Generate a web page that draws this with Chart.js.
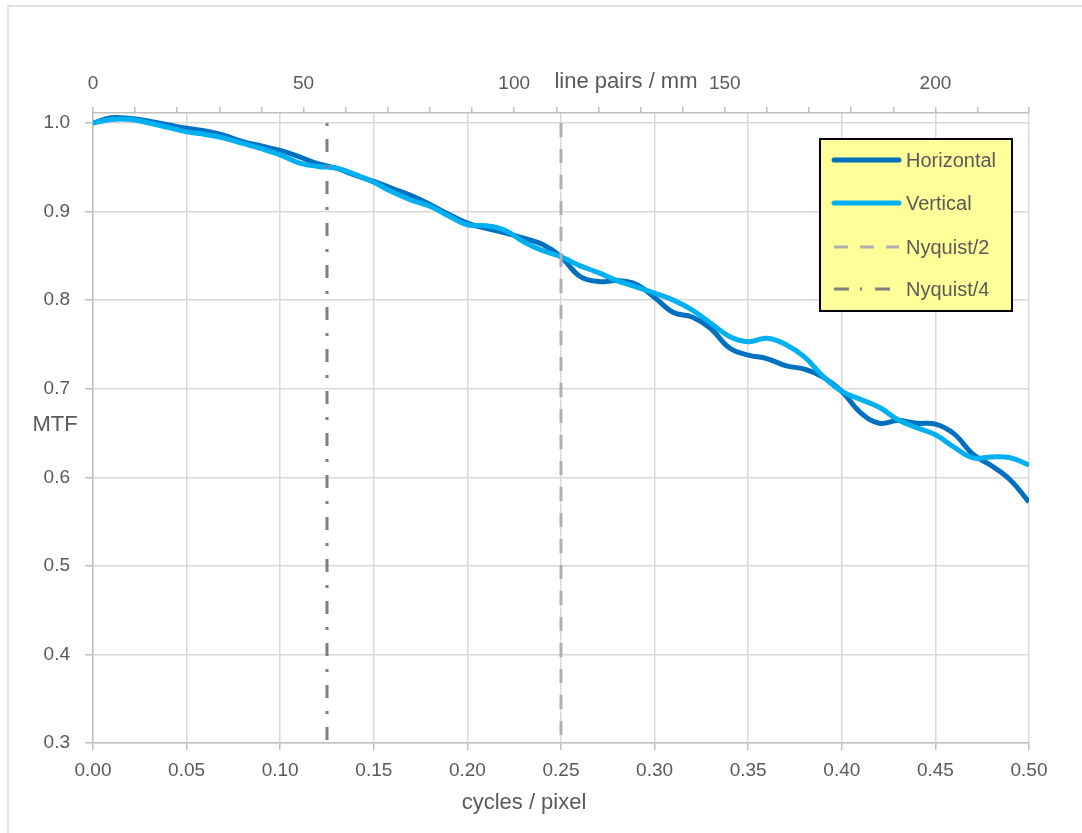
<!DOCTYPE html>
<html>
<head>
<meta charset="utf-8">
<script src="https://cdn.jsdelivr.net/npm/chart.js@4.4.1/dist/chart.umd.min.js"></script>
<style>
  body { margin: 0; background: #fff; }
  canvas { display: block; }
</style>
</head>
<body>
<canvas id="mtfChart" width="1082" height="833"></canvas>
<script>
// cycles / pixel
const freq = [0.00, 0.01, 0.02, 0.03, 0.04, 0.05, 0.06, 0.07, 0.08, 0.09,
  0.10, 0.11, 0.12, 0.13, 0.14, 0.15, 0.16, 0.17, 0.18, 0.19,
  0.20, 0.21, 0.22, 0.23, 0.24, 0.25, 0.26, 0.27, 0.28, 0.29,
  0.30, 0.31, 0.32, 0.33, 0.34, 0.35, 0.36, 0.37, 0.38, 0.39,
  0.40, 0.41, 0.42, 0.43, 0.44, 0.45, 0.46, 0.47, 0.48, 0.49, 0.50];

const horizontal = [1.000, 1.006, 1.005, 1.002, 0.998, 0.994, 0.991, 0.986, 0.979, 0.974,
  0.969, 0.962, 0.954, 0.949, 0.941, 0.934, 0.926, 0.918, 0.908, 0.897,
  0.887, 0.881, 0.876, 0.870, 0.863, 0.849, 0.827, 0.821, 0.822, 0.818,
  0.803, 0.786, 0.781, 0.768, 0.746, 0.738, 0.734, 0.726, 0.722, 0.713,
  0.697, 0.673, 0.661, 0.664, 0.661, 0.660, 0.649, 0.626, 0.613, 0.597, 0.572];

const vertical = [1.000, 1.004, 1.004, 1.000, 0.995, 0.990, 0.987, 0.983, 0.977, 0.971,
  0.964, 0.955, 0.951, 0.949, 0.942, 0.933, 0.922, 0.913, 0.906, 0.895,
  0.885, 0.884, 0.879, 0.866, 0.856, 0.849, 0.839, 0.831, 0.822, 0.815,
  0.808, 0.800, 0.789, 0.774, 0.759, 0.753, 0.757, 0.750, 0.736, 0.714,
  0.697, 0.688, 0.679, 0.665, 0.656, 0.648, 0.634, 0.622, 0.623, 0.622, 0.614];

const nyquistHalf = 0.25;
const nyquistQuarter = 0.125;
const lpPerMmPerCycle = 444.44; // 2.25 um pixel pitch
const topLabels = [0, 50, 100, 150, 200];

const FONT = "'Liberation Sans', Arial, sans-serif";
const TEXT = "#595959";
const GRID = "#d9d9d9";
const AXIS = "#bfbfbf";

const toPoints = (ys) => freq.map((x, i) => ({ x: x, y: ys[i] }));
// drawn top-down so the dash pattern starts at 1.0
const vline = (x) => [{ x: x, y: 1.0 }, { x: x, y: 0.3 }];

// axis titles, legend box and frame
const decorations = {
  id: "decorations",
  beforeDraw(chart) {
    const ctx = chart.ctx;
    ctx.save();
    ctx.fillStyle = "#fff";
    ctx.fillRect(0, 0, chart.width, chart.height);
    ctx.strokeStyle = GRID;
    ctx.lineWidth = 1.5;
    ctx.strokeRect(8, 6, 1200, 1000);
    ctx.restore();
  },
  afterDraw(chart) {
    const ctx = chart.ctx;
    ctx.save();
    ctx.font = "22px " + FONT;
    ctx.fillStyle = TEXT;
    ctx.textBaseline = "middle";
    ctx.textAlign = "center";
    ctx.fillText("cycles / pixel", 524, 803);
    ctx.fillText("line pairs / mm", 626, 82);
    ctx.fillText("MTF", 55, 425);

    // legend
    ctx.fillStyle = "#ffff99";
    ctx.fillRect(820, 139, 192, 172);
    ctx.strokeStyle = "#000";
    ctx.lineWidth = 2;
    ctx.strokeRect(820, 139, 192, 172);

    ctx.font = "20px " + FONT;
    const rows = [160, 203, 247, 289];
    chart.data.datasets.forEach((ds, k) => {
      const y = rows[k];
      ctx.beginPath();
      ctx.strokeStyle = ds.borderColor;
      ctx.lineWidth = ds.borderWidth;
      ctx.lineCap = ds.legendCap || "butt";
      ctx.setLineDash(ds.legendDash || []);
      ctx.moveTo(834, y);
      ctx.lineTo(899, y);
      ctx.stroke();
      ctx.setLineDash([]);
      ctx.fillStyle = TEXT;
      ctx.textAlign = "left";
      ctx.fillText(ds.label, 906, y + 1);
    });
    ctx.restore();
  }
};

new Chart(document.getElementById("mtfChart"), {
  type: "line",
  data: {
    datasets: [
      {
        label: "Horizontal",
        data: toPoints(horizontal),
        borderColor: "#0070c0",
        borderWidth: 5,
        legendCap: "round",
        pointRadius: 0,
        tension: 0.4,
        order: 1,
      },
      {
        label: "Vertical",
        data: toPoints(vertical),
        borderColor: "#00b0f0",
        borderWidth: 5,
        legendCap: "round",
        pointRadius: 0,
        tension: 0.4,
        order: 0,
      },
      {
        label: "Nyquist/2",
        data: vline(nyquistHalf),
        borderColor: "#afafaf",
        borderWidth: 3,
        borderDash: [14, 12],
        legendDash: [14, 12],
        pointRadius: 0,
        order: -1,
      },
      {
        label: "Nyquist/4",
        data: vline(nyquistQuarter),
        borderColor: "#7f7f7f",
        borderWidth: 3,
        borderDash: [3, 13, 13, 13],
        legendDash: [15, 11, 2, 13],
        pointRadius: 0,
        order: -2,
      },
    ],
  },
  options: {
    responsive: false,
    animation: false,
    devicePixelRatio: 1,
    layout: { padding: { left: 0, right: 53, top: 0, bottom: 0 } },
    plugins: {
      legend: { display: false },
      tooltip: { enabled: false },
    },
    scales: {
      x: {
        type: "linear",
        position: "bottom",
        min: 0,
        max: 0.5,
        afterFit: (scale) => { scale.height = 90; },
        ticks: {
          stepSize: 0.05,
          color: TEXT,
          font: { family: FONT, size: 19 },
          padding: 9,
          maxRotation: 0,
          callback: (v) => Number(v).toFixed(2),
        },
        grid: { color: GRID, lineWidth: 1.5, tickLength: 7, tickColor: AXIS },
        border: { color: AXIS, width: 1.5 },
      },
      x2: {
        type: "linear",
        position: "top",
        min: 0,
        max: 0.5 * lpPerMmPerCycle,
        afterFit: (scale) => { scale.height = 113; },
        ticks: {
          stepSize: 10,
          autoSkip: false,
          color: TEXT,
          font: { family: FONT, size: 19 },
          padding: 12,
          maxRotation: 0,
          callback: (v) => (topLabels.includes(Math.round(v)) ? String(Math.round(v)) : ""),
        },
        grid: { drawOnChartArea: false, tickLength: 6, color: AXIS, lineWidth: 1.5 },
        border: { color: AXIS, width: 1.5 },
      },
      y: {
        type: "linear",
        min: 0.3,
        max: 1.0113,
        afterFit: (scale) => { scale.width = 93; },
        ticks: {
          stepSize: 0.1,
          includeBounds: false,
          color: TEXT,
          font: { family: FONT, size: 19 },
          padding: 15,
          callback: (v) => Number(v).toFixed(1),
        },
        grid: { color: GRID, lineWidth: 1.5, tickLength: 8, tickColor: AXIS },
        border: { color: AXIS, width: 1.5 },
      },
    },
  },
  plugins: [decorations],
});
</script>
</body>
</html>
